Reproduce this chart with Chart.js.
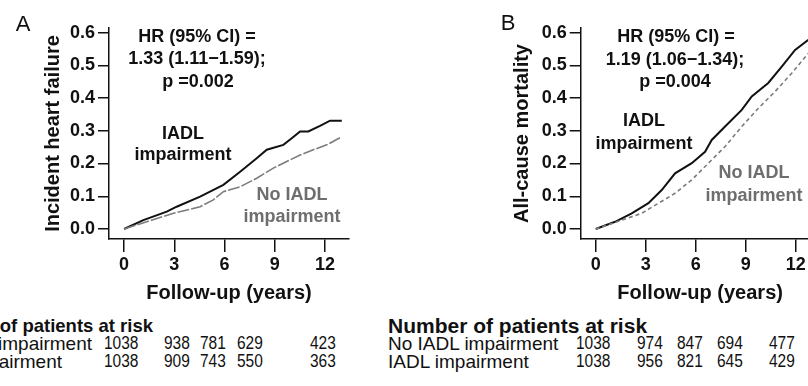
<!DOCTYPE html>
<html>
<head>
<meta charset="utf-8">
<script src="https://cdn.jsdelivr.net/npm/chart.js@4.4.0/dist/chart.umd.min.js"></script>
<style>
  html, body { margin: 0; padding: 0; background: #fff; }
  #wrap { position: relative; width: 808px; height: 386px; overflow: hidden; background: #fff; }
  canvas { position: absolute; top: 0; }
  #chartA { left: 0; }
  #chartB { left: 404px; }
  .t { position: absolute; white-space: pre; line-height: 1; font-family: "Liberation Sans", Arial, sans-serif; color: #111; }
</style>
</head>
<body>
<div id="wrap">
  <canvas id="chartA" width="404" height="310"></canvas>
  <canvas id="chartB" width="440" height="310"></canvas>
</div>
<script>
// 축 눈금
const xTicks = [0, 3, 6, 9, 12];
const yTicks = [0, 0.1, 0.2, 0.3, 0.4, 0.5, 0.6];

// A: incident heart failure
const hfIadlTimes = [0, 1.15, 2.55, 3.14, 4.54, 5.93, 6.93, 7.92, 8.52, 9.51, 10.01, 10.51, 11.0, 11.7, 12.3, 13.0];
const hfIadlValues = [0, 0.027, 0.053, 0.068, 0.099, 0.135, 0.175, 0.216, 0.242, 0.257, 0.277, 0.298, 0.298, 0.315, 0.331, 0.331];
const hfNoTimes = [0, 1.35, 2.95, 4.54, 5.33, 5.93, 6.93, 7.92, 8.91, 9.71, 10.51, 11.3, 12.1, 12.9];
const hfNoValues = [0, 0.022, 0.048, 0.068, 0.089, 0.114, 0.129, 0.155, 0.186, 0.206, 0.226, 0.242, 0.257, 0.279];

// B: all-cause mortality
const mortIadlTimes = [0, 1.16, 2.16, 3.16, 3.96, 4.76, 5.76, 6.56, 6.96, 7.76, 8.76, 9.36, 10.35, 11.16, 11.96, 12.76, 13.0];
const mortIadlValues = [0, 0.022, 0.048, 0.079, 0.119, 0.170, 0.201, 0.236, 0.272, 0.313, 0.364, 0.405, 0.446, 0.496, 0.547, 0.578, 0.59];
const mortNoTimes = [0, 2.76, 4.76, 5.76, 6.76, 7.76, 8.76, 9.76, 10.76, 11.76, 12.76, 13.0];
const mortNoValues = [0, 0.048, 0.109, 0.150, 0.201, 0.252, 0.313, 0.369, 0.420, 0.476, 0.537, 0.55];

// 위험군 환자 수
const riskHfNo = [1038, 938, 781, 629, 423];
const riskHfIadl = [1038, 909, 743, 550, 363];
const riskMortNo = [1038, 974, 847, 694, 477];
const riskMortIadl = [1038, 956, 821, 645, 429];

const FONT = '"Liberation Sans", Arial, sans-serif';

function pts(xs, ys) {
    return xs.map((x, i) => ({ x: x, y: ys[i] }));
}

function makeChart(id, cfg) {
    const ctx = document.getElementById(id).getContext('2d');
    return new Chart(ctx, {
        type: 'line',
        data: {
            datasets: [
                { data: pts(cfg.noT, cfg.noV), borderColor: '#7c7c7c', borderWidth: 1.6, borderDash: cfg.dash, pointRadius: 0, tension: 0 },
                { data: pts(cfg.iadlT, cfg.iadlV), borderColor: '#111', borderWidth: 2, pointRadius: 0, tension: 0 }
            ]
        },
        options: {
            responsive: false,
            animation: false,
            layout: { padding: cfg.padding },
            plugins: { legend: { display: false }, tooltip: { enabled: false } },
            scales: {
                x: {
                    type: 'linear', min: -0.9, max: 13.43,
                    afterBuildTicks: s => { s.ticks = xTicks.map(v => ({ value: v })); },
                    afterFit: s => { s.height = 70; },
                    border: { display: true, color: '#111', width: 1.5 },
                    grid: { drawOnChartArea: false, drawTicks: true, tickLength: 13, color: '#111', lineWidth: 1.5 },
                    ticks: { color: '#111', padding: 2, maxRotation: 0, font: { family: FONT, size: 18, weight: 'bold' } },
                    title: { display: true, text: 'Follow-up (years)', color: '#111', font: { family: FONT, size: 20, weight: 'bold' } }
                },
                y: {
                    type: 'linear', min: -0.0306, max: 0.614,
                    afterBuildTicks: s => { s.ticks = yTicks.map(v => ({ value: v })); },
                    afterFit: s => { s.width = cfg.yWidth; },
                    border: { display: true, color: '#111', width: 1.5 },
                    grid: { drawOnChartArea: false, drawTicks: true, tickLength: 11, color: '#111', lineWidth: 1.5 },
                    ticks: { color: '#111', padding: 3, callback: v => v.toFixed(1), font: { family: FONT, size: 18, weight: 'bold' } },
                    title: { display: true, text: cfg.yTitle, color: '#111', font: { family: FONT, size: 20, weight: 'bold' } }
                }
            }
        }
    });
}

makeChart('chartA', {
    iadlT: hfIadlTimes, iadlV: hfIadlValues, noT: hfNoTimes, noV: hfNoValues,
    dash: [12, 2], yTitle: 'Incident heart failure', yWidth: 72,
    padding: { left: 37, top: 28, right: 55, bottom: 1 }
});
makeChart('chartB', {
    iadlT: mortIadlTimes, iadlV: mortIadlValues, noT: mortNoTimes, noV: mortNoValues,
    dash: [4, 3], yTitle: 'All-cause mortality', yWidth: 74.4,
    padding: { left: 102.3, top: 28, right: 24.4, bottom: 1 }
});

// 텍스트 배치
const wrap = document.getElementById('wrap');
function addText(txt, x, y, o) {
    o = o || {};
    const d = document.createElement('div');
    d.className = 't';
    d.textContent = txt;
    d.style.left = x + 'px';
    d.style.top = y + 'px';
    d.style.fontSize = (o.size || 18) + 'px';
    d.style.fontWeight = o.bold === false ? 'normal' : 'bold';
    if (o.color) d.style.color = o.color;
    const align = o.align || 'center';
    const tx = align === 'left' ? '0' : align === 'right' ? '-100%' : '-50%';
    d.style.transformOrigin = align + ' center';
    d.style.transform = `translate(${tx}, -50%) scaleX(${o.sx || 1})`;
    wrap.appendChild(d);
}

addText('A', 23, 24, { size: 22, bold: false });
addText('B', 508, 23, { size: 22, bold: false });

addText('HR (95% CI) =', 197, 35.5);
addText('1.33 (1.11\u22121.59);', 197, 58);
addText('p =0.002', 198, 81);
addText('IADL', 183, 133);
addText('impairment', 183, 154);
addText('No IADL', 292, 194, { color: '#6e6e6e' });
addText('impairment', 292, 216, { color: '#6e6e6e' });

addText('HR (95% CI) =', 676, 35.5);
addText('1.19 (1.06\u22121.34);', 675, 59);
addText('p =0.004', 675, 81);
addText('IADL', 644, 120);
addText('impairment', 644, 143);
addText('No IADL', 754, 172, { color: '#6e6e6e' });
addText('impairment', 754, 195, { color: '#6e6e6e' });

// 위험군 표
const colsA = [104, 164, 200, 237, 310];
const colsB = [576, 637, 677, 717, 769];
addText('Number of patients at risk', 153, 326, { size: 18.5, align: 'right' });
addText('No IADL impairment', 92, 343, { size: 19, bold: false, align: 'right' });
addText('IADL impairment', 62, 361, { size: 19, bold: false, align: 'right' });
addText('Number of patients at risk', 388, 326, { size: 20, align: 'left', sx: 1.05 });
addText('No IADL impairment', 388, 343, { size: 19, bold: false, align: 'left' });
addText('IADL impairment', 388, 361, { size: 19, bold: false, align: 'left' });
const numOpts = { size: 18, bold: false, align: 'left', sx: 0.86 };
riskHfNo.forEach((n, i) => addText(String(n), colsA[i], 343, numOpts));
riskHfIadl.forEach((n, i) => addText(String(n), colsA[i], 361, numOpts));
riskMortNo.forEach((n, i) => addText(String(n), colsB[i], 343, numOpts));
riskMortIadl.forEach((n, i) => addText(String(n), colsB[i], 361, numOpts));
</script>
</body>
</html>
